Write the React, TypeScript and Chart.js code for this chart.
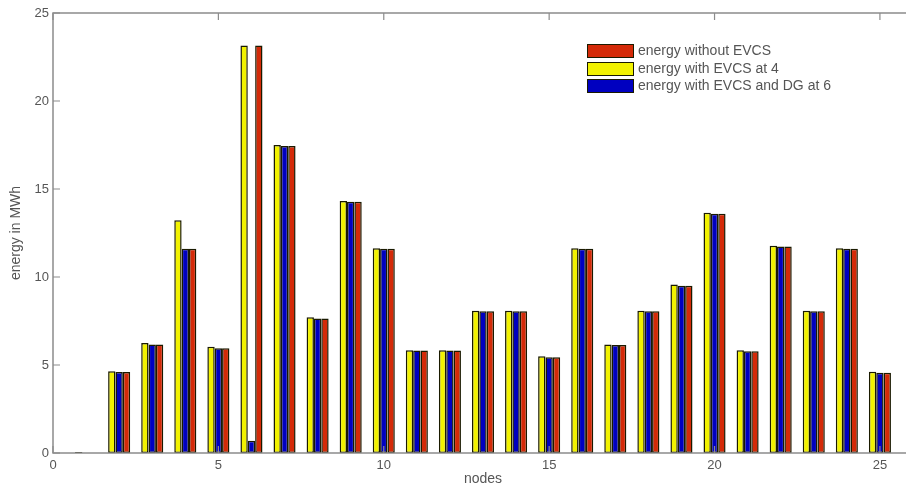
import React, { useEffect, useRef } from "react";
import { Chart, registerables } from "chart.js";

Chart.register(...registerables);

const nodes = [1, 2, 3, 4, 5, 6, 7, 8, 9, 10, 11, 12, 13, 14, 15, 16, 17, 18, 19, 20, 21, 22, 23, 24, 25];
const withEVCS4 = [0.06, 4.65, 6.25, 13.22, 6.03, 23.15, 17.5, 7.72, 14.32, 11.63, 5.84, 5.84, 8.08, 8.08, 5.5, 11.63, 6.17, 8.08, 9.58, 13.65, 5.84, 11.78, 8.08, 11.63, 4.61];
const withEVCSDG6 = [0, 4.6, 6.17, 11.6, 5.95, 0.7, 17.45, 7.64, 14.28, 11.6, 5.82, 5.82, 8.05, 8.05, 5.44, 11.6, 6.14, 8.05, 9.5, 13.6, 5.78, 11.74, 8.05, 11.6, 4.56];
const withoutEVCS = [0, 4.6, 6.17, 11.6, 5.95, 23.15, 17.45, 7.64, 14.28, 11.6, 5.82, 5.82, 8.05, 8.05, 5.44, 11.6, 6.14, 8.05, 9.5, 13.6, 5.78, 11.74, 8.05, 11.6, 4.56];

const xTickStep = 5;
const yTickStep = 5;

const YELLOW = "#f2f200";
const BLUE = "#0000c0";
const RED = "#d42a08";
const EDGE = "#1a1a00";
const TEXT = "#555555";
const AXIS = "#8c8c8c";

const legendItems = [
  { label: "energy without EVCS", color: RED },
  { label: "energy with EVCS at 4", color: YELLOW },
  { label: "energy with EVCS and DG at 6", color: BLUE },
];

const framePlugin = {
  id: "frame",
  afterDatasetsDraw(chart: any) {
    const { ctx, chartArea, scales } = chart;
    const { left, right, top, bottom } = chartArea;
    const xs = scales.x;
    const ys = scales.y;
    ctx.save();
    ctx.strokeStyle = AXIS;
    ctx.lineWidth = 1.5;
    ctx.beginPath();
    ctx.rect(left, top, right - left, bottom - top);
    ctx.stroke();
    ctx.lineWidth = 1.2;
    ctx.beginPath();
    xs.ticks.forEach((t: any) => {
      const px = xs.getPixelForValue(t.value);
      ctx.moveTo(px, bottom);
      ctx.lineTo(px, bottom - 7);
      ctx.moveTo(px, top);
      ctx.lineTo(px, top + 7);
    });
    ys.ticks.forEach((t: any) => {
      const py = ys.getPixelForValue(t.value);
      ctx.moveTo(left, py);
      ctx.lineTo(left + 7, py);
      ctx.moveTo(right, py);
      ctx.lineTo(right - 7, py);
    });
    ctx.stroke();
    ctx.restore();
  },
};

const legendPlugin = {
  id: "customLegend",
  afterDraw(chart: any) {
    const { ctx } = chart;
    ctx.save();
    const x0 = 587;
    const rows = [51, 69, 86];
    ctx.font = "14px 'Liberation Sans', Arial, sans-serif";
    ctx.textBaseline = "middle";
    legendItems.forEach((it, i) => {
      const cy = rows[i];
      ctx.fillStyle = it.color;
      ctx.fillRect(x0, cy - 7, 47, 14);
      ctx.strokeStyle = EDGE;
      ctx.lineWidth = 1;
      ctx.strokeRect(x0 + 0.5, cy - 6.5, 46, 13);
      ctx.fillStyle = TEXT;
      ctx.fillText(it.label, x0 + 51, cy);
    });
    ctx.restore();
  },
};

export default function App() {
  const ref = useRef<HTMLCanvasElement | null>(null);

  useEffect(() => {
    if (!ref.current) return;
    const mk = (vals: number[]) => nodes.map((n, i) => ({ x: n, y: vals[i] }));
    const chart = new Chart(ref.current, {
      type: "bar",
      data: {
        datasets: [
          { label: "energy with EVCS at 4", data: mk(withEVCS4), backgroundColor: YELLOW, borderColor: EDGE, borderWidth: 1.5, borderSkipped: false },
          { label: "energy with EVCS and DG at 6", data: mk(withEVCSDG6), backgroundColor: BLUE, borderColor: EDGE, borderWidth: 1.5, borderSkipped: false },
          { label: "energy without EVCS", data: mk(withoutEVCS), backgroundColor: RED, borderColor: EDGE, borderWidth: 1.5, borderSkipped: false },
        ] as any,
      },
      options: {
        animation: false,
        responsive: true,
        maintainAspectRatio: false,
        datasets: { bar: { categoryPercentage: 0.667, barPercentage: 1 } } as any,
        layout: { padding: { left: 0, top: 13, right: 17, bottom: 0 } },
        plugins: { legend: { display: false }, tooltip: { enabled: false } },
        scales: {
          x: {
            type: "linear",
            min: 0,
            max: 26,
            offset: false,
            grid: { display: false, drawTicks: false, offset: false },
            border: { display: false },
            ticks: {
              stepSize: xTickStep,
              includeBounds: false,
              padding: 5,
              color: TEXT,
              font: { family: "'Liberation Sans', Arial, sans-serif", size: 13 },
              maxRotation: 0,
            },
            title: {
              display: true,
              text: "nodes",
              color: TEXT,
              font: { family: "'Liberation Sans', Arial, sans-serif", size: 14 },
              padding: { top: 0, bottom: 2.6 },
            },
            afterFit: (s: any) => {
              s.height = 37;
            },
          } as any,
          y: {
            min: 0,
            max: 25,
            grid: { display: false, drawTicks: false },
            border: { display: false },
            ticks: {
              stepSize: yTickStep,
              padding: 4,
              color: TEXT,
              font: { family: "'Liberation Sans', Arial, sans-serif", size: 13 },
            },
            title: {
              display: true,
              text: "energy in MWh",
              color: TEXT,
              font: { family: "'Liberation Sans', Arial, sans-serif", size: 14 },
              padding: { top: 7.6, bottom: 0 },
            },
            afterFit: (s: any) => {
              s.width = 53;
            },
          } as any,
        },
      },
      plugins: [framePlugin, legendPlugin],
    });
    return () => chart.destroy();
  }, []);

  return (
    <div style={{ position: "fixed", left: 0, top: 0, width: 906, height: 490, overflow: "hidden", background: "#fff" }}>
      <div style={{ position: "relative", width: 930, height: 490 }}>
        <canvas ref={ref} />
      </div>
    </div>
  );
}
